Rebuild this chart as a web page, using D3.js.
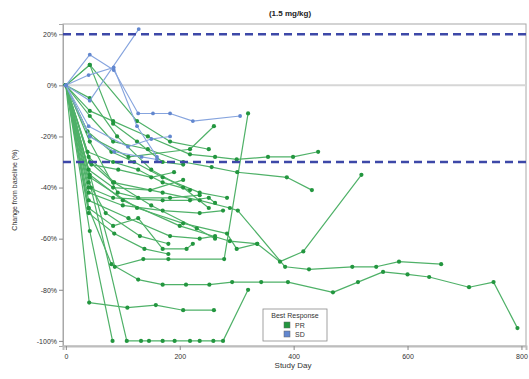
<!DOCTYPE html>
<html>
<head>
<meta charset="utf-8">
<script src="https://cdn.jsdelivr.net/npm/d3@7"></script>
<style>
  html, body { margin: 0; padding: 0; background: #fff; }
  svg { display: block; font-family: "Liberation Sans", Arial, sans-serif; }
</style>
</head>
<body>
<svg id="chart" width="529" height="379"></svg>
<script>
// Tumour-size change per patient over time, grouped by best response.
const xTicks = [0, 200, 400, 600, 800];
const yTicks = [20, 0, -20, -40, -60, -80, -100];
const thresholds = [20, -30];
const responseLabels = ["PR", "SD"];

// Partial responders: [study day, % change from baseline]
const prSeries = [
  [[0,0],[40,-48],[80,-70],[127,-76],[170,-78],[211,-78],[252,-78],[292,-77],[343,-77],[390,-77],[469,-81],[513,-77],[557,-73],[600,-74],[638,-75],[708,-79],[751,-77],[793,-95]],
  [[0,0],[86,-71],[136,-68],[180,-68],[278,-68],[320,-11]],
  [[0,0],[42,-57],[82,-100]],
  [[0,0],[44,-40],[107,-100],[132,-100],[146,-100],[170,-100],[191,-100],[218,-100],[235,-100],[259,-100],[276,-100],[320,-80]],
  [[0,0],[41,-85],[108,-87],[158,-86],[206,-88],[260,-88]],
  [[0,0],[42,-10],[83,-14],[144,-20],[218,-27],[262,-28],[300,-29],[355,-28],[399,-28],[443,-26]],
  [[0,0],[42,-12],[83,-22],[144,-25],[206,-30],[256,-32],[301,-34],[388,-36],[432,-41]],
  [[0,0],[42,-30],[83,-38],[170,-42],[235,-45],[288,-48],[302,-49],[385,-71],[427,-72],[503,-71],[545,-71],[585,-69],[659,-70]],
  [[0,0],[42,-35],[100,-45],[200,-55],[288,-61],[336,-62],[376,-69],[417,-65],[519,-35]],
  [[0,0],[42,8],[125,-14],[183,-22],[251,-25]],
  [[0,0],[42,8],[83,-15],[125,-22],[170,-30],[206,-31]],
  [[0,0],[42,-20],[110,-28],[218,-25],[260,-16]],
  [[0,0],[40,-33],[83,-40],[148,-41],[206,-37]],
  [[0,0],[40,-40],[83,-44],[170,-45],[218,-45],[251,-44],[262,-46]],
  [[0,0],[40,-42],[100,-47],[170,-49],[235,-50],[276,-49]],
  [[0,0],[40,-45],[110,-52],[183,-59],[235,-60],[262,-59]],
  [[0,0],[40,-48],[83,-55],[127,-52],[170,-64],[212,-64],[223,-62]],
  [[0,0],[42,-36],[125,-48],[206,-54],[283,-58],[300,-64],[336,-62]],
  [[0,0],[40,-28],[85,-38],[150,-47],[230,-56],[262,-60]],
  [[0,0],[42,-22],[91,-42],[127,-44],[183,-44],[235,-43]],
  [[0,0],[38,-26],[83,-30],[127,-33],[170,-38],[218,-41]],
  [[0,0],[40,-50],[85,-58],[138,-64],[180,-66]],
  [[0,0],[38,-18],[80,-26],[120,-30],[170,-36],[235,-42],[283,-44]],
  [[0,0],[42,-5],[90,-20],[150,-33],[206,-40],[251,-48]],
  [[0,0],[40,-38],[70,-50],[130,-59],[180,-62]],
  [[0,0],[45,-31],[92,-33],[150,-36],[190,-34]]
];

// Stable disease
const sdSeries = [
  [[0,0],[42,12],[84,6],[127,-11],[153,-11],[183,-11],[223,-14],[306,-12]],
  [[0,0],[42,-6],[128,22]],
  [[0,0],[40,4],[84,7],[125,-16],[160,-28]],
  [[0,0],[40,-16],[109,-24],[150,-21],[183,-20]],
  [[0,0],[42,-20],[85,-26],[133,-28],[160,-29]]
];

const colors = {
  PR: { line: "#4fb168", dot: "#23963f" },
  SD: { line: "#86a4de", dot: "#6287cf" }
};

const svg = d3.select("#chart");
const plot = { left: 63, right: 526, top: 24, bottom: 346 };

const x = d3.scaleLinear().domain([-5, 808]).range([plot.left, plot.right]);
const y = d3.scaleLinear().domain([-102, 24]).range([plot.bottom, plot.top]);

// Title
svg.append("text")
  .attr("x", 290).attr("y", 16)
  .attr("text-anchor", "middle")
  .attr("font-size", 8).attr("font-weight", "bold").attr("fill", "#222")
  .text("(1.5 mg/kg)");

// Frame
svg.append("rect")
  .attr("x", plot.left).attr("y", plot.top)
  .attr("width", plot.right - plot.left).attr("height", plot.bottom - plot.top)
  .attr("fill", "#fff").attr("stroke", "#a8a8a8").attr("stroke-width", 1);

// Zero reference line
svg.append("line")
  .attr("x1", plot.left).attr("x2", plot.right)
  .attr("y1", y(0)).attr("y2", y(0))
  .attr("stroke", "#d6d6d6").attr("stroke-width", 2);

// Axes
const yAxis = d3.axisLeft(y).tickValues(yTicks).tickSize(4).tickFormat(d => d + "%");
const gy = svg.append("g").attr("transform", `translate(${plot.left},0)`).call(yAxis);
gy.select(".domain").attr("stroke", "#a8a8a8");
gy.selectAll(".tick line").attr("stroke", "#888");
gy.selectAll(".tick text").attr("font-size", 7).attr("fill", "#333").attr("x", -6)
  .attr("font-family", "'Liberation Sans', Arial, sans-serif");

const xAxis = d3.axisBottom(x).tickValues(xTicks).tickSize(4);
const gx = svg.append("g").attr("transform", `translate(0,${plot.bottom})`).call(xAxis);
gx.select(".domain").attr("stroke", "#bdbdbd").attr("stroke-width", 2);
gx.selectAll(".tick line").attr("stroke", "#888");
gx.selectAll(".tick text").attr("font-size", 7).attr("fill", "#333").attr("y", 8)
  .attr("font-family", "'Liberation Sans', Arial, sans-serif");

svg.append("text")
  .attr("x", 293).attr("y", 368)
  .attr("text-anchor", "middle").attr("font-size", 8).attr("fill", "#333")
  .text("Study Day");

svg.append("text")
  .attr("transform", "translate(17,190) rotate(-90)")
  .attr("text-anchor", "middle").attr("font-size", 7).attr("fill", "#333")
  .text("Change from baseline (%)");

// Patient trajectories
const line = d3.line().x(d => x(d[0])).y(d => y(d[1]));
const groups = [
  { key: "PR", data: prSeries, width: 1.2, r: 2.1 },
  { key: "SD", data: sdSeries, width: 1.1, r: 1.9 }
];

groups.forEach(g => {
  const layer = svg.append("g").attr("class", "resp-" + g.key);
  layer.selectAll("path")
    .data(g.data).join("path")
    .attr("d", line)
    .attr("fill", "none")
    .attr("stroke", colors[g.key].line)
    .attr("stroke-width", g.width)
    .attr("stroke-linejoin", "round");
  layer.selectAll("circle")
    .data(g.data.flat()).join("circle")
    .attr("cx", d => x(d[0])).attr("cy", d => y(d[1]))
    .attr("r", g.r)
    .attr("fill", colors[g.key].dot);
});

// Response thresholds
svg.selectAll("line.thr")
  .data(thresholds).join("line")
  .attr("class", "thr")
  .attr("x1", plot.left).attr("x2", plot.right)
  .attr("y1", d => y(d)).attr("y2", d => y(d))
  .attr("stroke", "#3d48a8").attr("stroke-width", 2.4)
  .attr("stroke-dasharray", "8,5");

// Legend
const lg = svg.append("g").attr("transform", "translate(263,309)");
lg.append("rect").attr("width", 64).attr("height", 32)
  .attr("fill", "#fff").attr("stroke", "#8a8a8a").attr("stroke-width", 0.8);
lg.append("text").attr("x", 32).attr("y", 9)
  .attr("text-anchor", "middle").attr("font-size", 7).attr("fill", "#333")
  .text("Best Response");
responseLabels.forEach((k, i) => {
  lg.append("rect").attr("x", 21).attr("y", 13 + i * 9)
    .attr("width", 6).attr("height", 6)
    .attr("fill", colors[k].dot).attr("stroke", "#666").attr("stroke-width", 0.5);
  lg.append("text").attr("x", 32).attr("y", 19 + i * 9)
    .attr("font-size", 7).attr("fill", "#333").text(k);
});
</script>
</body>
</html>
